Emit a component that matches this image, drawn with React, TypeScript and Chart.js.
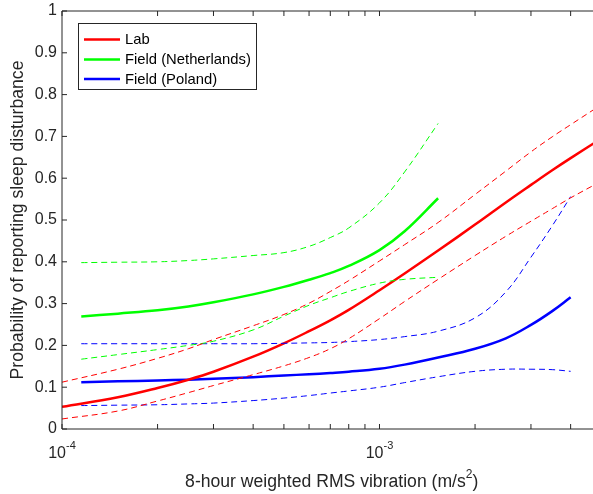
import React, { useEffect, useRef } from "react";
import { Chart, registerables } from "chart.js";

Chart.register(...registerables);

// ---------- data ----------
const labX = [1e-4, 1.5e-4, 2e-4, 2.5e-4, 3e-4, 4e-4, 5e-4, 6e-4, 7e-4, 8e-4, 1e-3, 1.2e-3, 1.53e-3, 2e-3, 2.5e-3, 3e-3, 3.5e-3, 4e-3, 5e-3];
const labMean = [0.053, 0.076, 0.098, 0.118, 0.137, 0.173, 0.205, 0.234, 0.260, 0.285, 0.332, 0.372, 0.427, 0.489, 0.542, 0.584, 0.619, 0.648, 0.695];
const labUpper = [0.112, 0.143, 0.169, 0.192, 0.214, 0.247, 0.274, 0.301, 0.329, 0.355, 0.402, 0.441, 0.494, 0.561, 0.617, 0.663, 0.699, 0.728, 0.776];
const labLower = [0.024, 0.043, 0.067, 0.087, 0.104, 0.130, 0.151, 0.171, 0.192, 0.216, 0.264, 0.305, 0.358, 0.415, 0.461, 0.497, 0.527, 0.553, 0.593];

const nlX = [1.15e-4, 1.5e-4, 2e-4, 2.5e-4, 3e-4, 4e-4, 5e-4, 6e-4, 7e-4, 8e-4, 1e-3, 1.2e-3, 1.53e-3];
const nlMean = [0.269, 0.276, 0.284, 0.293, 0.303, 0.322, 0.340, 0.357, 0.373, 0.390, 0.428, 0.473, 0.552];
const nlUpper = [0.398, 0.399, 0.400, 0.403, 0.407, 0.415, 0.422, 0.437, 0.458, 0.481, 0.541, 0.615, 0.731];
const nlLower = [0.167, 0.178, 0.190, 0.200, 0.210, 0.237, 0.270, 0.296, 0.314, 0.329, 0.349, 0.358, 0.363];

const plX = [1.15e-4, 1.5e-4, 2e-4, 2.5e-4, 3e-4, 4e-4, 5e-4, 6e-4, 7e-4, 8e-4, 1e-3, 1.2e-3, 1.53e-3, 2e-3, 2.5e-3, 3e-3, 3.5e-3, 4e-3];
const plMean = [0.112, 0.114, 0.116, 0.118, 0.120, 0.124, 0.128, 0.131, 0.134, 0.137, 0.144, 0.154, 0.171, 0.192, 0.217, 0.249, 0.282, 0.315];
const plUpper = [0.204, 0.204, 0.204, 0.204, 0.204, 0.204, 0.205, 0.206, 0.207, 0.209, 0.214, 0.221, 0.234, 0.266, 0.328, 0.411, 0.486, 0.556];
const plLower = [0.056, 0.057, 0.058, 0.060, 0.062, 0.068, 0.074, 0.080, 0.086, 0.091, 0.100, 0.111, 0.125, 0.138, 0.143, 0.143, 0.142, 0.138];

const legendLabels = ["Lab", "Field (Netherlands)", "Field (Poland)"];
const seriesColors = ["#ff0000", "#00ff00", "#0000ff"];

const yTicks = [0, 0.1, 0.2, 0.3, 0.4, 0.5, 0.6, 0.7, 0.8, 0.9, 1];
const yTickLabels = ["0", "0.1", "0.2", "0.3", "0.4", "0.5", "0.6", "0.7", "0.8", "0.9", "1"];
const xMajorTicks = [1e-4, 1e-3];
const xMajorExponents = ["-4", "-3"];
const xMinorTicks = [2e-4, 3e-4, 4e-4, 5e-4, 6e-4, 7e-4, 8e-4, 9e-4, 2e-3, 3e-3, 4e-3, 5e-3];

const xTitleMain = "8-hour weighted RMS vibration (m/s";
const xTitleSup = "2";
const xTitleEnd = ")";
const yTitle = "Probability of reporting sleep disturbance";

const FONT = "'Liberation Sans', Arial, Helvetica, sans-serif";
const TEXT = "#262626";

const toPts = (xs: number[], ys: number[]) => xs.map((x, i) => ({ x, y: ys[i] }));

const axesPlugin = {
  id: "matlabAxes",
  afterDatasetsDraw(chart: any) {
    const { ctx, chartArea: a, scales } = chart;
    const xs = scales.x;
    const ys = scales.y;
    ctx.save();
    // box
    ctx.strokeStyle = TEXT;
    ctx.lineWidth = 1;
    ctx.beginPath();
    ctx.rect(a.left, a.top, a.right - a.left, a.bottom - a.top);
    ctx.stroke();
    // y ticks
    ctx.beginPath();
    for (const v of yTicks) {
      const py = ys.getPixelForValue(v);
      ctx.moveTo(a.left, py);
      ctx.lineTo(a.left + 5, py);
      ctx.moveTo(a.right, py);
      ctx.lineTo(a.right - 5, py);
    }
    // x ticks
    for (const v of [...xMajorTicks, ...xMinorTicks]) {
      const px = xs.getPixelForValue(v);
      ctx.moveTo(px, a.bottom);
      ctx.lineTo(px, a.bottom - 5);
      ctx.moveTo(px, a.top);
      ctx.lineTo(px, a.top + 5);
    }
    ctx.stroke();

    // y tick labels
    ctx.fillStyle = TEXT;
    ctx.font = `16px ${FONT}`;
    ctx.textAlign = "right";
    ctx.textBaseline = "middle";
    yTicks.forEach((v, i) => {
      ctx.fillText(yTickLabels[i], a.left - 5, ys.getPixelForValue(v));
    });

    // x tick labels with superscript
    ctx.textAlign = "left";
    ctx.textBaseline = "alphabetic";
    xMajorTicks.forEach((v, i) => {
      const px = xs.getPixelForValue(v);
      ctx.font = `16px ${FONT}`;
      const w1 = ctx.measureText("10").width;
      ctx.font = `11px ${FONT}`;
      const w2 = ctx.measureText(xMajorExponents[i]).width;
      const start = px - (w1 + w2) / 2;
      ctx.font = `16px ${FONT}`;
      ctx.fillText("10", start, a.bottom + 29);
      ctx.font = `11px ${FONT}`;
      ctx.fillText(xMajorExponents[i], start + w1, a.bottom + 20);
    });

    // x title
    const big = `17.6px ${FONT}`;
    const small = `12px ${FONT}`;
    ctx.font = big;
    const wm = ctx.measureText(xTitleMain).width;
    const we = ctx.measureText(xTitleEnd).width;
    ctx.font = small;
    const ws = ctx.measureText(xTitleSup).width;
    const cx = (a.left + a.right) / 2;
    const sx = cx - (wm + ws + we) / 2;
    const base = a.bottom + 58;
    ctx.font = big;
    ctx.fillText(xTitleMain, sx, base);
    ctx.fillText(xTitleEnd, sx + wm + ws, base);
    ctx.font = small;
    ctx.fillText(xTitleSup, sx + wm, base - 9);

    // y title
    ctx.save();
    ctx.translate(23, (a.top + a.bottom) / 2);
    ctx.rotate(-Math.PI / 2);
    ctx.font = big;
    ctx.textAlign = "center";
    ctx.fillText(yTitle, 0, 0);
    ctx.restore();

    // legend
    const lx = 78.5, ly = 23.5, lw = 178, lh = 66;
    ctx.fillStyle = "#ffffff";
    ctx.fillRect(lx, ly, lw, lh);
    ctx.strokeStyle = TEXT;
    ctx.lineWidth = 1;
    ctx.strokeRect(lx, ly, lw, lh);
    const rows = [39.5, 59.5, 79];
    ctx.font = `14.8px ${FONT}`;
    ctx.textAlign = "left";
    ctx.textBaseline = "middle";
    legendLabels.forEach((lab, i) => {
      ctx.strokeStyle = seriesColors[i];
      ctx.lineWidth = 2.5;
      ctx.beginPath();
      ctx.moveTo(84, rows[i]);
      ctx.lineTo(120, rows[i]);
      ctx.stroke();
      ctx.fillStyle = "#000000";
      ctx.fillText(lab, 125, rows[i] + 0.5);
    });
    ctx.restore();
  },
};

export default function App() {
  const ref = useRef<HTMLCanvasElement | null>(null);
  useEffect(() => {
    if (!ref.current) return;
    const solid = (data: any, color: string) => ({
      data, borderColor: color, borderWidth: 2.5, pointRadius: 0, tension: 0.4, fill: false,
    });
    const dashed = (data: any, color: string) => ({
      data, borderColor: color, borderWidth: 1, borderDash: [6, 4], pointRadius: 0, tension: 0.4, fill: false,
    });
    const chart = new Chart(ref.current, {
      type: "line",
      data: {
        datasets: [
          dashed(toPts(labX, labUpper), seriesColors[0]),
          dashed(toPts(labX, labLower), seriesColors[0]),
          dashed(toPts(nlX, nlUpper), seriesColors[1]),
          dashed(toPts(nlX, nlLower), seriesColors[1]),
          dashed(toPts(plX, plUpper), seriesColors[2]),
          dashed(toPts(plX, plLower), seriesColors[2]),
          solid(toPts(labX, labMean), seriesColors[0]),
          solid(toPts(nlX, nlMean), seriesColors[1]),
          solid(toPts(plX, plMean), seriesColors[2]),
        ],
      },
      options: {
        animation: false,
        responsive: false,
        devicePixelRatio: 1,
        parsing: false as any,
        normalized: true,
        layout: { padding: { left: 62, top: 11, right: 18.6, bottom: 65 } },
        plugins: { legend: { display: false }, tooltip: { enabled: false } },
        scales: {
          x: { type: "logarithmic", min: 1e-4, max: 5e-3, display: false },
          y: { type: "linear", min: 0, max: 1, display: false },
        },
      },
      plugins: [axesPlugin],
    });
    return () => chart.destroy();
  }, []);
  return (
    <div style={{ position: "fixed", left: 0, top: 0, width: 593, height: 494, overflow: "hidden", background: "#ffffff" }}>
      <canvas ref={ref} width={620} height={494} style={{ display: "block" }} />
    </div>
  );
}
